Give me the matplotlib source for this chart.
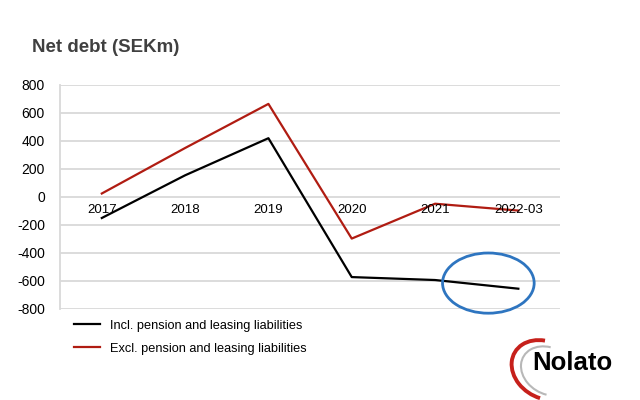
import matplotlib.pyplot as plt
from matplotlib.patches import Ellipse, Arc

plt.rcParams['font.family'] = ['Liberation Sans', 'DejaVu Sans']

categories = ["2017", "2018", "2019", "2020", "2021", "2022-03"]
incl_pension = [-150, 155, 420, -572, -593, -655]
excl_pension = [25, 350, 665, -297, -48, -97]
y_ticks = [800, 600, 400, 200, 0, -200, -400, -600, -800]

fig = plt.figure(figsize=(6.4, 4.0), dpi=100)
fig.patch.set_facecolor("white")

fig.text(0.05, 0.882, "Net debt (SEKm)", fontsize=13.5, fontweight="bold", color="#404040",
         va="center")

ax = fig.add_axes([0.094, 0.2275, 0.781, 0.56])
x = list(range(len(categories)))
ax.plot(x, incl_pension, color="black", lw=1.6, label="Incl. pension and leasing liabilities")
ax.plot(x, excl_pension, color="#b01c12", lw=1.6, label="Excl. pension and leasing liabilities")

ax.set_xlim(-0.5, len(categories) - 0.5)
ax.set_ylim(-800, 800)
ax.set_yticks(y_ticks)
ax.set_yticklabels([str(v) for v in y_ticks], fontsize=10)
ax.tick_params(axis="y", length=0, pad=11)
ax.set_xticks([])
for v in y_ticks:
    ax.axhline(v, color="#d9d9d9", lw=1.3, zorder=0)
for s in ["top", "right", "bottom"]:
    ax.spines[s].set_visible(False)
ax.spines["left"].set_color("#d9d9d9")
ax.spines["left"].set_linewidth(1.3)

# category labels sit just under the zero line
for i, c in enumerate(categories):
    ax.text(i, -50, c, ha="center", va="top", fontsize=9.5, color="black")

# highlight circle
ax.add_patch(Ellipse((4.64, -615), 1.1, 430, fill=False, edgecolor="#2e75c0",
                     lw=2, clip_on=False, zorder=5))

ax.legend(loc="upper left", bbox_to_anchor=(0.005, 0.003), frameon=False, fontsize=9.2,
          handlelength=2.0, labelspacing=0.85)

# logo
lax = fig.add_axes([0.79, 0.0, 0.21, 0.17])
lax.set_xlim(0, 1.344)
lax.set_ylim(0, 0.68)
lax.set_aspect("equal")
lax.axis("off")
lax.add_patch(Arc((0.394, 0.30), 0.70, 0.56, angle=-30, theta1=120, theta2=290,
                  color="#c6201b", lw=2.8))
lax.add_patch(Arc((0.43, 0.29), 0.58, 0.46, angle=-30, theta1=115, theta2=295,
                  color="#b8b8b8", lw=1.5))
lax.text(0.67, 0.37, "Nolato", ha="center", va="center", fontsize=18.5,
         fontweight="bold", color="black")

fig.savefig("out.png", dpi=100)
